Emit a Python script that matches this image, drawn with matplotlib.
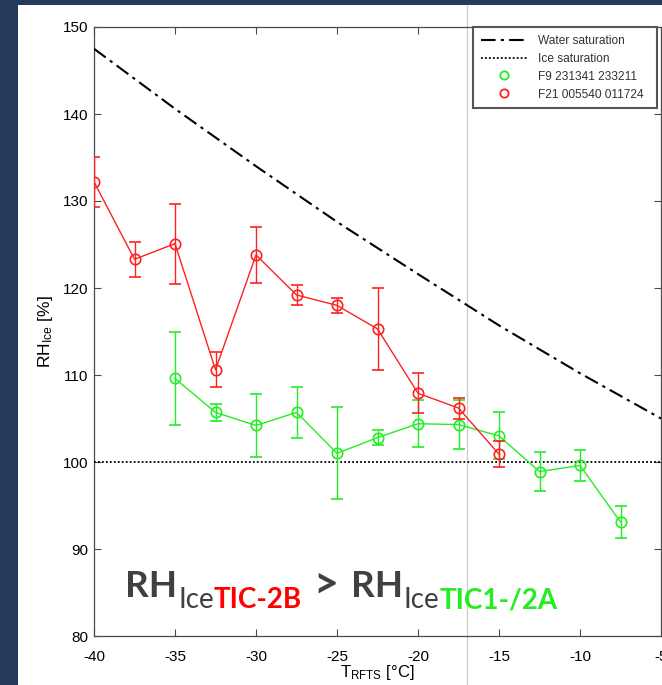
import numpy as np
import matplotlib
matplotlib.use("Agg")
import matplotlib.pyplot as plt
from matplotlib.patches import Rectangle

# --- data --------------------------------------------------------------
t_f21 = [-40, -37.5, -35, -32.5, -30, -27.5, -25, -22.5, -20, -17.5, -15]
rh_f21 = [132.2, 123.3, 125.1, 110.6, 123.8, 119.2, 118.0, 115.3, 107.9, 106.2, 100.9]
err_f21 = [2.9, 2.0, 4.6, 2.0, 3.2, 1.1, 0.9, 4.7, 2.3, 1.2, 1.5]

t_f9 = [-35, -32.5, -30, -27.5, -25, -22.5, -20, -17.5, -15, -12.5, -10, -7.5]
rh_f9 = [109.6, 105.7, 104.2, 105.7, 101.0, 102.8, 104.4, 104.3, 103.0, 98.9, 99.6, 93.1]
err_f9 = [5.3, 1.0, 3.6, 2.9, 5.3, 0.9, 2.7, 2.8, 2.7, 2.2, 1.8, 1.8]

t_water = [-40, -35, -30, -25, -20, -15, -10, -5]
rh_water = [147.5, 140.6, 134.0, 127.6, 121.6, 115.7, 110.2, 105.0]

ice_sat = 100.0
t_marker = -17.0

x_ticks = [-40, -35, -30, -25, -20, -15, -10, -5]
y_ticks = [80, 90, 100, 110, 120, 130, 140, 150]

legend_labels = ["Water saturation", "Ice saturation",
                 "F9 231341 233211", "F21 005540 011724"]

RED = "#ff2020"
GREEN = "#22ee22"
NAVY = "#243b5d"
AXIS_GRAY = "#4a4a4a"
DASHDOT = (7, 2.5, 1.5, 2.5)

plt.rcParams["font.family"] = ["Liberation Sans", "DejaVu Sans"]
plt.rcParams["mathtext.default"] = "regular"

fig = plt.figure(figsize=(6.62, 6.85), dpi=100)
fig.patch.set_facecolor(NAVY)
# white slide panel
fig.add_artist(Rectangle((18 / 662, 0), 1 - 18 / 662, 1 - 5 / 685,
                         transform=fig.transFigure, facecolor="white",
                         edgecolor="none", zorder=0))

ax = fig.add_axes([94 / 662, 1 - 636 / 685, 567 / 662, 609 / 685])
ax.set_facecolor("white")

# vertical marker line runs across the whole panel
ax.plot([t_marker, t_marker], [74.4, 152.5], color="#cfcfcf", lw=1.0,
        clip_on=False, zorder=1)

ax.plot(t_water, rh_water, color="black", lw=1.5, dashes=DASHDOT, zorder=3)
ax.axhline(ice_sat, color="black", lw=1.3, ls=(0, (1, 1.2)), zorder=3)

ax.errorbar(t_f9, rh_f9, yerr=err_f9, color=GREEN, lw=1.0, elinewidth=1.0,
            capsize=4, capthick=1.0, marker="o", ms=7.5, mfc="none",
            mec=GREEN, mew=1.2, zorder=4)
ax.errorbar(t_f21, rh_f21, yerr=err_f21, color=RED, lw=1.0, elinewidth=1.0,
            capsize=4, capthick=1.0, marker="o", ms=7.5, mfc="none",
            mec=RED, mew=1.2, zorder=5)

# legend handles: circles only for the flights
h_w, = ax.plot([], [], color="black", lw=1.5, dashes=DASHDOT)
h_i, = ax.plot([], [], color="black", lw=1.3, ls=(0, (1, 1.2)))
h_g, = ax.plot([], [], ls="none", marker="o", ms=6, mfc="none", mec=GREEN, mew=1.3)
h_r, = ax.plot([], [], ls="none", marker="o", ms=6, mfc="none", mec=RED, mew=1.3)
leg = ax.legend([h_w, h_i, h_g, h_r], [s + "  " for s in legend_labels],
                loc="upper right", bbox_to_anchor=(0.998, 1.004),
                fontsize=8.6, handlelength=3.9, handletextpad=0.85,
                labelspacing=0.5, borderpad=0.65, borderaxespad=0.2,
                fancybox=False, framealpha=1)
leg.get_frame().set_edgecolor("#555555")
leg.get_frame().set_linewidth(1.5)
for txt in leg.get_texts():
    txt.set_color("#333333")

ax.set_xlim(-40, -5)
ax.set_ylim(80, 150)
ax.set_xticks(x_ticks)
ax.set_yticks(y_ticks)
ax.set_xticklabels([str(v) for v in x_ticks])
ax.tick_params(direction="in", length=5, width=0.8, color=AXIS_GRAY,
               top=True, right=True, labelsize=11, labelcolor="black")
ax.tick_params(axis="x", pad=10)
ax.tick_params(axis="y", pad=4)
for s in ax.spines.values():
    s.set_color(AXIS_GRAY)
    s.set_linewidth(0.9)

ax.set_xlabel(r"T$_{\mathregular{RFTS}}$ [°C]", fontsize=12, labelpad=-1)
ax.set_ylabel(r"RH$_{\mathregular{Ice}}$ [%]", fontsize=12.5, labelpad=6)

# --- big colored statement, built piece by piece -----------------------
# (text, colour, size, weight, baseline shift px, gap before px)
pieces = [
    ("RH", "#404040", 26.5, "bold", 0, 0),
    ("Ice", "#404040", 20, "normal", -11, 1),
    ("TIC-2B", "#ff0000", 20, "bold", -11, 0),
    (">", "#404040", 31, "bold", -1, 11),
    ("RH", "#404040", 26.5, "bold", 0, 13),
    ("Ice", "#404040", 20, "normal", -11, 1),
    ("TIC1-/2A", "#22ee22", 20, "bold", -11, 0),
]
renderer = fig.canvas.get_renderer()
x_px = 125.0
base_px = 685 - 597.0
for text, col, size, weight, dy, gap in pieces:
    x_px += gap
    t = fig.text(x_px / 662, (base_px + dy) / 685, text, color=col,
                 fontsize=size, fontweight=weight, family=["Lato", "DejaVu Sans"],
                 va="baseline", ha="left", zorder=10)
    x_px += t.get_window_extent(renderer).width

fig.savefig("out.png", dpi=100, facecolor=fig.get_facecolor())
